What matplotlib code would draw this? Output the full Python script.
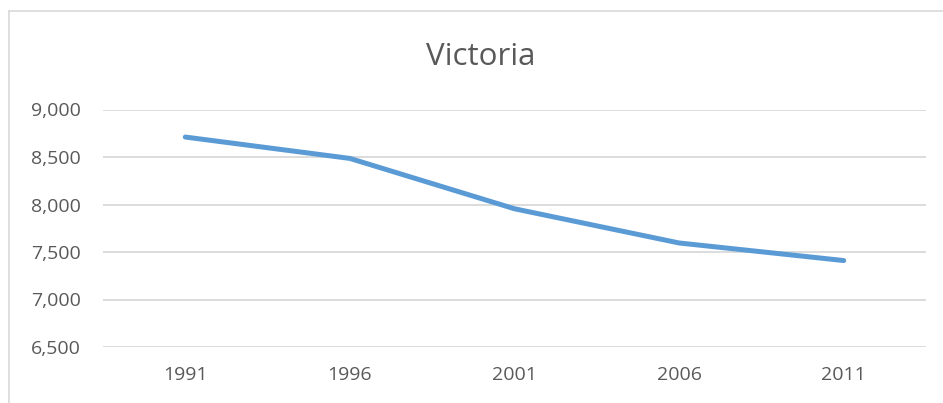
import matplotlib.pyplot as plt
from matplotlib.lines import Line2D

years = ['1991', '1996', '2001', '2006', '2011']
victoria = [8710, 8485, 7955, 7595, 7410]
yticks = [6500, 7000, 7500, 8000, 8500, 9000]

plt.rcParams['font.family'] = ['Open Sans', 'DejaVu Sans']

fig = plt.figure(figsize=(9.43, 4.03), dpi=100)
ax = fig.add_axes([103 / 943, 56 / 403, 823 / 943, 237.5 / 403])

x = range(len(years))
ax.plot(x, victoria, color='#5B9BD5', linewidth=3.6, solid_capstyle='round', solid_joinstyle='round')

ax.set_xlim(-0.5, len(years) - 0.5)
ax.set_ylim(6500, 9000)
ax.set_xticks(list(x))
ax.set_xticklabels(years)
ax.set_yticks(yticks)
ax.set_yticklabels([f'{v:,}' for v in yticks])

for v in yticks:
    ax.axhline(v, color='#D9D9D9', linewidth=1.3, zorder=0)

for s in ax.spines.values():
    s.set_visible(False)
ax.tick_params(axis='both', length=0, colors='#595959', labelsize=14)
ax.tick_params(axis='y', pad=16)
ax.tick_params(axis='x', pad=14)

fig.text(481 / 943, 1 - 57 / 403, 'Victoria', ha='center', va='center', fontsize=22.5, color='#595959')

# outer chart border (cropped on right and bottom)
fig.add_artist(Line2D([8.5 / 943, 8.5 / 943], [0, 1 - 11 / 403], color='#D9D9D9', linewidth=1.2, transform=fig.transFigure))
fig.add_artist(Line2D([8.5 / 943, 1], [1 - 11 / 403, 1 - 11 / 403], color='#D9D9D9', linewidth=1.2, transform=fig.transFigure))

fig.savefig('out.png', dpi=100)
